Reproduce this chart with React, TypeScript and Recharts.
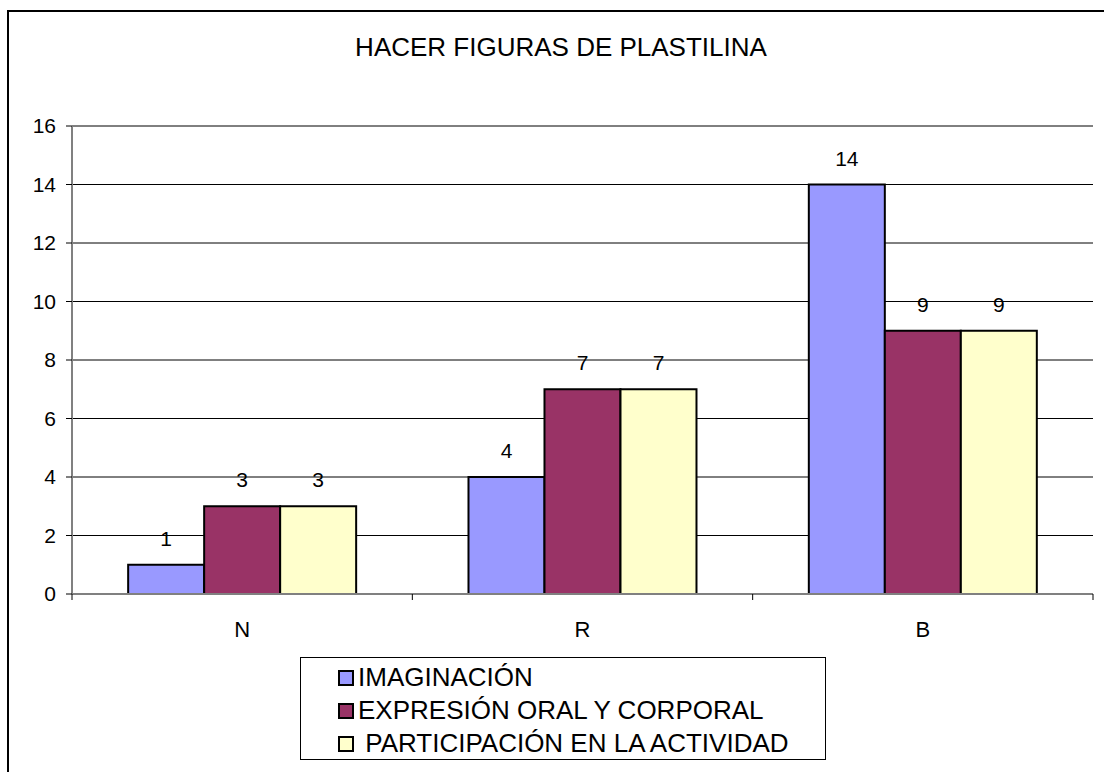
import React from 'react'
import {
  BarChart,
  Bar,
  XAxis,
  YAxis,
  CartesianGrid,
  LabelList
} from 'recharts'

const title = 'HACER FIGURAS DE PLASTILINA'
const categories = ['N', 'R', 'B']
const imaginacion = [1, 4, 14]
const expresion = [3, 7, 9]
const participacion = [3, 7, 9]
const yTicks = [0, 2, 4, 6, 8, 10, 12, 14, 16]

const series = [
  { key: 'imaginacion', label: 'IMAGINACIÓN', color: '#9999FF', values: imaginacion },
  { key: 'expresion', label: 'EXPRESIÓN ORAL Y CORPORAL', color: '#993366', values: expresion },
  { key: 'participacion', label: ' PARTICIPACIÓN EN LA ACTIVIDAD', color: '#FFFFCC', values: participacion }
]

const data = categories.map((name, i) => {
  const row: Record<string, string | number> = { name }
  series.forEach(s => {
    row[s.key] = s.values[i]
  })
  return row
})

const FONT = '"Liberation Sans", Arial, sans-serif'
const LABEL_GAP = 27

// category label plus the little tick marks that sit between categories
function CategoryTick(props: any) {
  const { x, y, payload, width, visibleTicksCount, index } = props
  const band = width / visibleTicksCount
  const axisY = y - LABEL_GAP
  const last = index === visibleTicksCount - 1
  return (
    <g>
      <line x1={x - band / 2} x2={x - band / 2} y1={axisY} y2={axisY + 6} stroke="#000" />
      {last && (
        <line x1={x + band / 2} x2={x + band / 2} y1={axisY} y2={axisY + 6} stroke="#000" />
      )}
      <text
        x={x}
        y={y}
        dy="0.71em"
        textAnchor="middle"
        fill="#000"
        fontSize={22}
        fontFamily={FONT}
      >
        {payload.value}
      </text>
    </g>
  )
}

export default function App() {
  return (
    <div
      style={{
        position: 'absolute',
        left: 0,
        top: 0,
        width: 1104,
        height: 772,
        overflow: 'hidden',
        background: '#fff',
        fontFamily: FONT
      }}
    >
      {/* outer frame, runs off the right and bottom edge */}
      <div
        style={{
          position: 'absolute',
          left: 7,
          top: 10,
          width: 1200,
          height: 900,
          border: '2px solid #000'
        }}
      />

      <div
        style={{
          position: 'absolute',
          left: 0,
          top: 32,
          width: 1122,
          textAlign: 'center',
          fontSize: 26,
          lineHeight: '30px',
          color: '#000'
        }}
      >
        {title}
      </div>

      <div style={{ position: 'absolute', left: 0, top: 0 }}>
        <BarChart
          width={1104}
          height={772}
          data={data}
          margin={{ top: 126, right: 11, left: 12, bottom: 177 }}
          barCategoryGap="16.5%"
          barGap={0}
        >
          <CartesianGrid horizontal vertical={false} stroke="#000" strokeWidth={1} />
          <XAxis
            dataKey="name"
            height={1}
            interval={0}
            axisLine={{ stroke: '#808080', strokeWidth: 2 }}
            tickLine={false}
            tickSize={0}
            tickMargin={LABEL_GAP}
            tick={<CategoryTick />}
          />
          <XAxis
            xAxisId="top"
            orientation="top"
            dataKey="name"
            height={0}
            tick={false}
            tickLine={false}
            axisLine={{ stroke: '#808080', strokeWidth: 2 }}
          />
          <YAxis
            width={60}
            domain={[0, 16]}
            ticks={yTicks}
            interval={0}
            tickSize={6}
            tickMargin={10}
            tickLine={{ stroke: '#000' }}
            axisLine={{ stroke: '#808080', strokeWidth: 2 }}
            tick={{ fill: '#000', fontSize: 21, fontFamily: FONT }}
          />
          <YAxis
            yAxisId="frame"
            orientation="right"
            width={0}
            domain={[0, 16]}
            tick={false}
            tickLine={false}
            axisLine={{ stroke: '#808080', strokeWidth: 2 }}
          />
          {series.map(s => (
            <Bar
              key={s.key}
              dataKey={s.key}
              fill={s.color}
              stroke="#000"
              strokeWidth={2}
              isAnimationActive={false}
            >
              <LabelList
                dataKey={s.key}
                position="top"
                offset={19}
                fill="#000"
                fontSize={21}
                fontFamily={FONT}
              />
            </Bar>
          ))}
        </BarChart>
      </div>

      {/* legend */}
      <div
        style={{
          position: 'absolute',
          left: 300,
          top: 657,
          width: 526,
          height: 103,
          boxSizing: 'border-box',
          border: '1px solid #000',
          paddingTop: 3
        }}
      >
        {series.map(s => (
          <div
            key={s.key}
            style={{
              display: 'flex',
              alignItems: 'center',
              height: 33,
              paddingLeft: 37,
              fontSize: 26,
              color: '#000',
              whiteSpace: 'pre'
            }}
          >
            <span
              style={{
                display: 'inline-block',
                width: 12,
                height: 12,
                background: s.color,
                border: '2px solid #000',
                marginRight: 4
              }}
            />
            {s.label}
          </div>
        ))}
      </div>
    </div>
  )
}
